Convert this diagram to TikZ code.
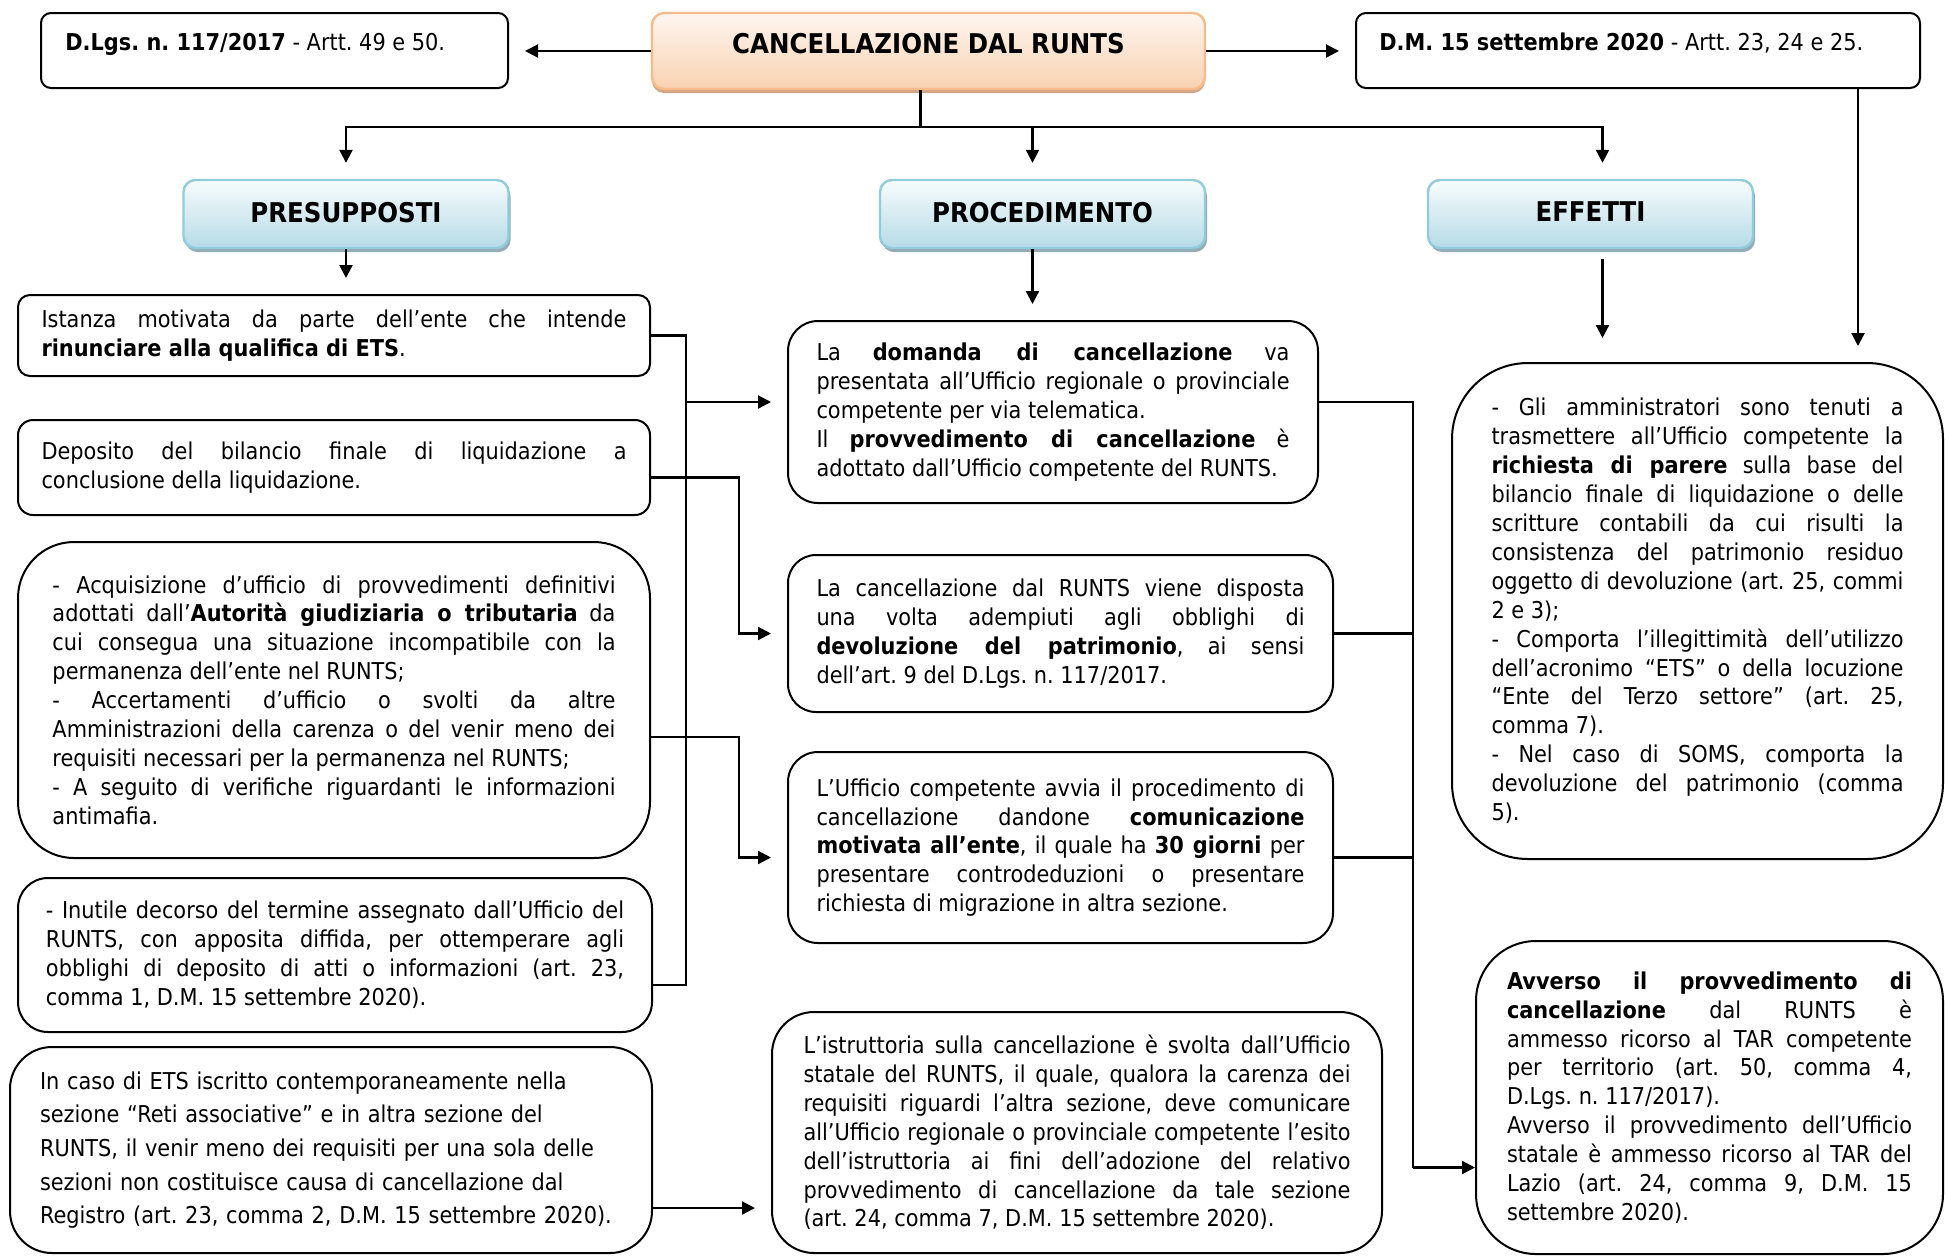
\documentclass[tikz,border=0pt]{standalone}
\usepackage{fontspec}
\setmainfont{DejaVu Sans}[FakeStretch=0.9]
\usetikzlibrary{arrows.meta,shadows}

\definecolor{peachtop}{HTML}{FEF6F0}
\definecolor{peachbot}{HTML}{F9D2B1}
\definecolor{peachline}{HTML}{F7BB8A}
\definecolor{peachshade}{HTML}{D5A789}
\definecolor{skytop}{HTML}{F8FCFD}
\definecolor{skybot}{HTML}{B5DBE6}
\definecolor{skyline}{HTML}{92CCDC}
\definecolor{skyshade}{HTML}{93ACB6}

\newcommand{\txtfont}{\fontsize{11.6}{14.45}\selectfont}
\newcommand{\hdfont}{\fontsize{13.6}{16}\selectfont\bfseries}
\hyphenpenalty=10000
\exhyphenpenalty=10000
\frenchspacing

\begin{document}
\begin{tikzpicture}[x=0.5pt, y=-0.5pt,
    txtbox/.style={draw, line width=1pt, rounded corners=#1, inner sep=0pt, font=\txtfont, align=justify},
    txtbox/.default=7pt,
    headbox/.style={draw=skyline, line width=1.2pt, rounded corners=6pt, top color=skytop, bottom color=skybot,
      drop shadow={shadow xshift=1pt, shadow yshift=-2pt, fill=skyshade, opacity=1},
      minimum width=162.5pt, minimum height=34pt, text depth=2pt, font=\hdfont},
    conn/.style={line width=1.1pt},
    arr/.style={conn, -{Triangle[length=6.5pt,width=6.5pt]}, shorten >=8pt}]

    \path[use as bounding box, fill=white] (0,0) rectangle (1945,1255);

    % top row
    \node[txtbox=5pt, minimum width=233.5pt, minimum height=37.5pt] (lgs) at (274.5,50.5) {};
    \node[anchor=base west, font=\txtfont, inner sep=0pt] (lgstxt) at (65,50) {\textbf{D.Lgs. n. 117/2017} - Artt. 49 e 50.};
    \node[draw=peachline, line width=1.2pt, rounded corners=6pt, top color=peachtop, bottom color=peachbot,
      drop shadow={shadow xshift=0pt, shadow yshift=-2pt, fill=peachshade, opacity=1},
      minimum width=276.5pt, minimum height=38pt, text depth=8pt, font=\hdfont] (canc) at (928.5,51) {CANCELLAZIONE DAL RUNTS};
    \node[txtbox=5pt, minimum width=282pt, minimum height=37.5pt] (dm) at (1638,50.5) {};
    \node[anchor=base west, font=\txtfont, inner sep=0pt] (dmtxt) at (1379,50) {\textbf{D.M. 15 settembre 2020} - Artt. 23, 24 e 25.};

    \node[headbox] (presup) at (346,214) {PRESUPPOSTI};
    \node[headbox] (proced) at (1042.5,214) {PROCEDIMENTO};
    \node[headbox] (effetti) at (1590.5,214) {EFFETTI};

    % presupposti
    \node[txtbox=6pt, minimum width=316pt, minimum height=40.5pt, text width=292.5pt] (istanza) at (334,335.5)
      {Istanza motivata da parte dell’ente che intende\linebreak \textbf{rinunciare alla qualifica di ETS}.};
    \node[txtbox=7.5pt, minimum width=316pt, minimum height=47.5pt, text width=292.5pt] (deposito) at (334,467.5)
      {Deposito del bilancio finale di liquidazione a\linebreak conclusione della liquidazione.};
    \node[txtbox=28pt, minimum width=316pt, minimum height=158pt, text width=281.5pt] (acq) at (334,700)
      {- Acquisizione d’ufficio di provvedimenti definitivi\linebreak adottati dall’\textbf{Autorità giudiziaria o tributaria} da\linebreak cui consegua una situazione incompatibile con la\linebreak permanenza dell’ente nel RUNTS;\\
       - Accertamenti d’ufficio o svolti da altre\linebreak Amministrazioni della carenza o del venir meno dei\linebreak requisiti necessari per la permanenza nel RUNTS;\\
       - A seguito di verifiche riguardanti le informazioni\linebreak antimafia.};
    \node[txtbox=15pt, minimum width=317pt, minimum height=77pt, text width=289pt] (inutile) at (335,955)
      {- Inutile decorso del termine assegnato dall’Ufficio del\linebreak RUNTS, con apposita diffida, per ottemperare agli\linebreak obblighi di deposito di atti o informazioni (art. 23,\linebreak comma 1, D.M. 15 settembre 2020).};
    \node[txtbox=21pt, minimum width=321pt, minimum height=103pt, text width=291pt, align=left,
      font=\fontsize{11.6}{16.8}\selectfont] (incaso) at (331,1150)
      {In caso di ETS iscritto contemporaneamente nella\\ sezione “Reti associative” e in altra sezione del\\ RUNTS, il venir meno dei requisiti per una sola delle\\ sezioni non costituisce causa di cancellazione dal\\ Registro (art. 23, comma 2, D.M. 15 settembre 2020).};

    % procedimento
    \node[txtbox=15pt, minimum width=265pt, minimum height=91pt, text width=236.5pt] (domanda) at (1053,412)
      {La \textbf{domanda di cancellazione} va\linebreak presentata all’Ufficio regionale o provinciale\linebreak competente per via telematica.\\
       Il \textbf{provvedimento di cancellazione} è\linebreak adottato dall’Ufficio competente del RUNTS.};
    \node[txtbox=14pt, minimum width=272.5pt, minimum height=78.5pt, text width=244pt] (cancell) at (1060.5,633.5)
      {La cancellazione dal RUNTS viene disposta\linebreak una volta adempiuti agli obblighi di\linebreak \textbf{devoluzione del patrimonio}, ai sensi\linebreak dell’art. 9 del D.Lgs. n. 117/2017.};
    \node[txtbox=15pt, minimum width=272.5pt, minimum height=95.5pt, text width=244pt] (ufficio) at (1060.5,847.5)
      {L’Ufficio competente avvia il procedimento di\linebreak cancellazione dandone \textbf{comunicazione}\linebreak \textbf{motivata all’ente}, il quale ha \textbf{30 giorni} per\linebreak presentare controdeduzioni o presentare\linebreak richiesta di migrazione in altra sezione.};
    \node[txtbox=21pt, minimum width=305pt, minimum height=120.5pt, text width=273.5pt] (istrut) at (1077,1132.5)
      {L’istruttoria sulla cancellazione è svolta dall’Ufficio\linebreak statale del RUNTS, il quale, qualora la carenza dei\linebreak requisiti riguardi l’altra sezione, deve comunicare\linebreak all’Ufficio regionale o provinciale competente l’esito\linebreak dell’istruttoria ai fini dell’adozione del relativo\linebreak provvedimento di cancellazione da tale sezione\linebreak (art. 24, comma 7, D.M. 15 settembre 2020).};

    % effetti
    \node[txtbox=38pt, minimum width=245.5pt, minimum height=248pt, text width=206pt] (gli) at (1697.5,611)
      {- Gli amministratori sono tenuti a\linebreak trasmettere all’Ufficio competente la\linebreak \textbf{richiesta di parere} sulla base del\linebreak bilancio finale di liquidazione o delle\linebreak scritture contabili da cui risulti la\linebreak consistenza del patrimonio residuo\linebreak oggetto di devoluzione (art. 25, commi\linebreak 2 e 3);\\
       - Comporta l’illegittimità dell’utilizzo\linebreak dell’acronimo “ETS” o della locuzione\linebreak “Ente del Terzo settore” (art. 25,\linebreak comma 7).\\
       - Nel caso di SOMS, comporta la\linebreak devoluzione del patrimonio (comma\linebreak 5).};
    \node[txtbox=30pt, minimum width=233.5pt, minimum height=156.5pt, text width=202.5pt] (avverso) at (1709.5,1097.5)
      {\textbf{Avverso il provvedimento di}\linebreak \textbf{cancellazione} dal RUNTS è\linebreak ammesso ricorso al TAR competente\linebreak per territorio (art. 50, comma 4,\linebreak D.Lgs. n. 117/2017).\\
       Avverso il provvedimento dell’Ufficio\linebreak statale è ammesso ricorso al TAR del\linebreak Lazio (art. 24, comma 9, D.M. 15\linebreak settembre 2020).};

    % connectors from the title
    \draw[arr] (canc.west) -- (canc.west -| lgs.east);
    \draw[arr] (canc.east) -- (canc.east -| dm.west);
    \draw[conn] ([xshift=-4pt]canc.south) -- ++(0,37) coordinate (bus);
    \coordinate (p1) at ([xshift=-5pt]proced.north);
    \coordinate (e1) at ([xshift=6pt]effetti.north);
    \draw[arr] (bus) -| (presup.north);
    \draw[arr] (bus) -| (e1);
    \draw[arr] (bus -| p1) -- (p1);

    \draw[arr] (presup.south) -- (presup.south |- istanza.north);
    \draw[arr] ([xshift=-5pt]proced.south) -- ([xshift=-5pt]proced.south |- domanda.north);
    \draw[arr, shorten <=5pt, shorten >=12pt] ([xshift=6pt]effetti.south) -- ([xshift=6pt]effetti.south |- gli.north);
    \draw[arr] ([xshift=110pt]dm.south) -- ([xshift=110pt]dm.south |- gli.north);

    % left bus
    \coordinate (lbus) at (686,0);
    \coordinate (inu) at ([yshift=-15pt]inutile.east);
    \coordinate (dom) at ([yshift=5pt]domanda.west);
    \draw[conn] (istanza.east) -| (inu -| lbus) -- (inu);
    \draw[arr] (dom -| lbus) -- (dom);
    \draw[arr] ([yshift=-5pt]deposito.east) -- ++(88,0) |- (cancell.west);
    \draw[arr] ([yshift=-18.5pt]acq.east) -- ++(88,0) |- ([yshift=-5pt]ufficio.west);
    \draw[arr] ([yshift=-29pt]incaso.east) -- ([yshift=-29pt]incaso.east -| istrut.west);

    % right bus
    \coordinate (rbus) at (1413,0);
    \coordinate (avv) at ([yshift=-35pt]avverso.west);
    \draw[conn] ([yshift=5pt]domanda.east) -| (avv -| rbus);
    \draw[arr, shorten >=0pt] (avv -| rbus) -- (avv);
    \draw[conn] (cancell.east) -- (cancell.east -| rbus);
    \draw[conn] ([yshift=-5pt]ufficio.east) -- ([yshift=-5pt]ufficio.east -| rbus);
\end{tikzpicture}
\end{document}
